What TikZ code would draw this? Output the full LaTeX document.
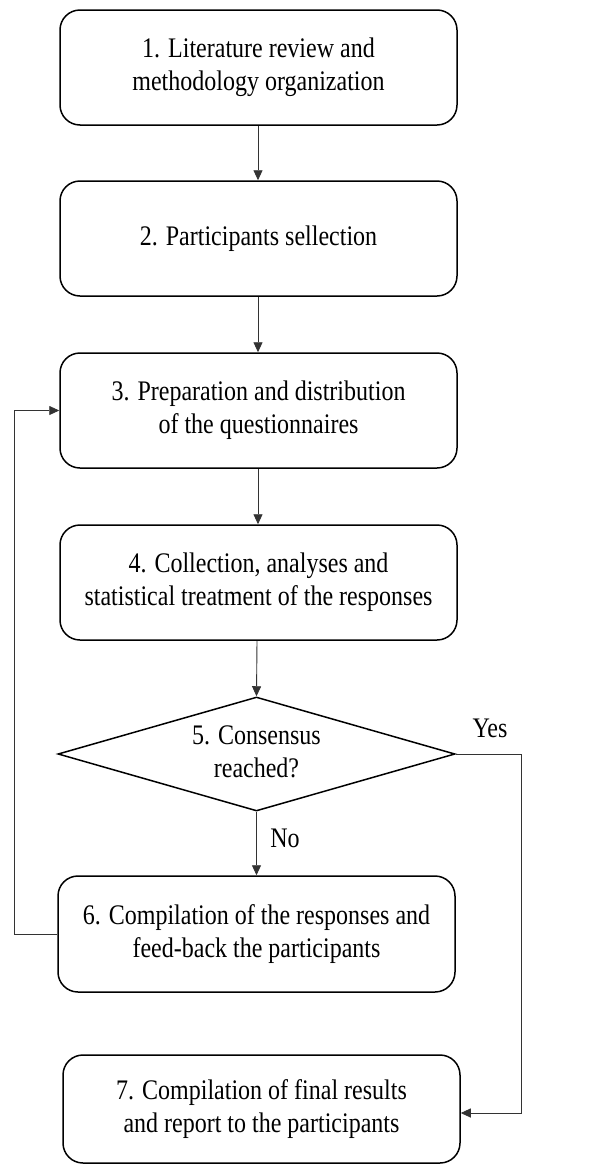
\documentclass[tikz,border=0pt]{standalone}
\usepackage{fontspec}
\usepackage{graphicx}
\setmainfont{Liberation Serif}
\usetikzlibrary{arrows.meta,shapes.geometric}
% Text of the figure is set a little taller than wide.
\newcommand{\stagetext}[1]{\scalebox{1}[1.18]{\fontsize{24}{28}\selectfont
  \begin{tabular}{@{}c@{}}#1\end{tabular}}}
\tikzset{
  stagebox/.style={draw=black,line width=1.5pt,rounded corners=20pt,
    minimum width=397pt,minimum height=115pt,inner sep=0pt},
  decisionbox/.style={diamond,draw=black,line width=1.5pt,aspect=3.5,
    minimum width=397pt,minimum height=114pt,inner sep=0pt},
  flowline/.style={draw=black!80,line width=0.9pt,
    -{Triangle[length=10pt,width=9pt]}},
  flowlabel/.style={inner sep=0pt}
}

\begin{document}
\begin{tikzpicture}[x=1pt,y=-1pt]
  \path[use as bounding box] (0,0) rectangle (603,1165);

  % Stages of the procedure.
  \node[stagebox] (lit) at (258.5,67.5) {\stagetext{1. Literature review and\\methodology organization}};
  \node[stagebox] (sel) at (258.5,238.5) {\stagetext{2. Participants sellection}};
  \node[stagebox] (prep) at (258.5,410.5) {\stagetext{3. Preparation and distribution\\of the questionnaires}};
  \node[stagebox] (coll) at (258.5,582.5) {\stagetext{4. Collection, analyses and\\statistical treatment of the responses}};
  \node[decisionbox] (cons) at (256.5,754) {\stagetext{5. Consensus\\reached?}};
  \node[stagebox,minimum height=116pt] (comp) at (256.5,934) {\stagetext{6. Compilation of the responses and\\feed-back the participants}};
  \node[stagebox,minimum height=108pt] (final) at (261.5,1109) {\stagetext{7. Compilation of final results\\and report to the participants}};

  % Turning points of the two side loops.
  \coordinate (backlow) at (14,934);
  \coordinate (backup) at (14,410.5);
  \coordinate (yestop) at (521,754);
  \coordinate (yeslow) at (521,1113);

  \draw[flowline] (lit.south -| 258,0) -- (sel.north -| 258,0);
  \draw[flowline] (sel.south -| 258,0) -- (prep.north -| 258,0);
  \draw[flowline] (prep.south -| 258,0) -- (coll.north -| 258,0);
  \draw[flowline] (coll.south -| 257,0) -- (cons.north);
  \draw[flowline] (cons.south) -- (comp.north -| cons.south);
  \draw[flowline] (comp.west) -- (backlow) -- (backup) -- (prep.west);
  \draw[flowline] (cons.east) -- (yestop) -- (yeslow) -- (final.east |- yeslow);

  \node[flowlabel] (yes) at (490,731) {\stagetext{Yes}};
  \node[flowlabel] (no) at (285,841) {\stagetext{No}};
\end{tikzpicture}
\end{document}
